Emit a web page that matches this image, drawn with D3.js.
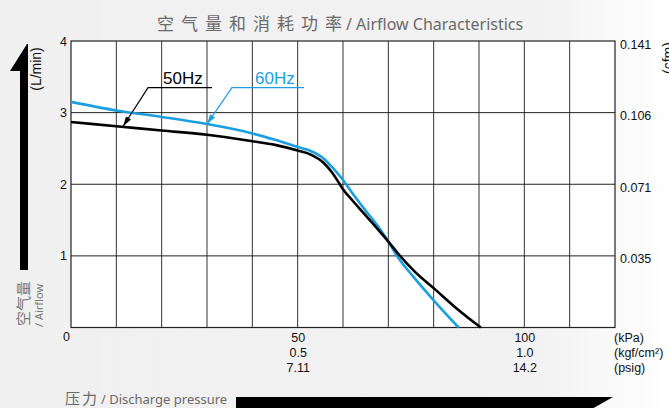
<!DOCTYPE html>
<meta charset="utf-8">
<script src="https://d3js.org/d3.v7.min.js"></script>
<style>
  body { margin: 0; }
  svg { display: block; }
</style>
<div id="chart"></div>
<script>

// pressure (kPa) and airflow (L/min)
var kpa50 = [0, 10, 20, 30, 40, 45, 50, 53, 55.7, 57.5, 59, 60, 62, 64.5, 67.7, 70, 72.3, 76, 80, 85, 90.4];
var flow50 = [2.87, 2.81, 2.75, 2.69, 2.60, 2.55, 2.47, 2.41, 2.30, 2.17, 2.03, 1.93, 1.78, 1.60, 1.37, 1.20, 1.02, 0.77, 0.55, 0.27, 0];

var kpa60 = [0, 10, 20, 30, 40, 45, 50, 53, 55.7, 58, 60, 62, 64.5, 68, 70, 72, 75.5, 80, 85.5];
var flow60 = [3.15, 3.03, 2.94, 2.84, 2.71, 2.62, 2.52, 2.46, 2.36, 2.21, 2.06, 1.88, 1.67, 1.39, 1.20, 0.99, 0.71, 0.38, 0];

// tick labels
var leftTicks = [1, 2, 3, 4];
var cfmLabels = ["0.035", "0.071", "0.106", "0.141"];
var kpaTicks = [50, 100];
var kgfLabels = ["0.5", "1.0"];
var psigLabels = ["7.11", "14.2"];
var unitLabels = ["(kPa)", "(kgf/cm\u00b2)", "(psig)"];

var W = 669, H = 408;
var margin = {top: 41, right: 54, bottom: 80.5, left: 71},
    width = W - margin.left - margin.right,
    height = H - margin.top - margin.bottom;

var blue = "#1a9fe0";
var tickFont = "'Liberation Sans', Arial, sans-serif";
var labelFont = "'Noto Sans', 'Noto Sans CJK SC', sans-serif";

var root = d3.select("#chart")
  .append("svg")
    .attr("width", W)
    .attr("height", H);

// background with a light fade to white on the right
var grad = root.append("defs").append("linearGradient")
    .attr("id", "bg").attr("x1", "0").attr("x2", "1").attr("y1", "0").attr("y2", "0");
grad.append("stop").attr("offset", "0").attr("stop-color", "#f0f0f0");
grad.append("stop").attr("offset", "0.8").attr("stop-color", "#f2f2f2");
grad.append("stop").attr("offset", "1").attr("stop-color", "#ffffff");
root.append("rect").attr("width", W).attr("height", H).attr("fill", "url(#bg)");

var defs = root.select("defs");
function marker(id, color) {
  defs.append("marker")
      .attr("id", id)
      .attr("viewBox", "0 0 10 6")
      .attr("refX", 10).attr("refY", 3)
      .attr("markerWidth", 10).attr("markerHeight", 6)
      .attr("markerUnits", "userSpaceOnUse")
      .attr("orient", "auto")
    .append("path")
      .attr("d", "M0,0L10,3L0,6Z")
      .attr("fill", color);
}
marker("headBlack", "#000");
marker("headBlue", blue);

var svg = root.append("g")
    .attr("transform", "translate(" + margin.left + "," + margin.top + ")");

var x = d3.scaleLinear().domain([0, 120]).range([0, width]);
var y = d3.scaleLinear().domain([0, 4]).range([height, 0]);

// plot area and grid
svg.append("rect")
    .attr("width", width).attr("height", height)
    .attr("fill", "#fff");

svg.append("g")
  .selectAll("line")
  .data(d3.range(10, 120, 10))
  .join("line")
    .attr("x1", d => x(d)).attr("x2", d => x(d))
    .attr("y1", 0).attr("y2", height)
    .attr("stroke", "#333").attr("stroke-width", 1);

svg.append("g")
  .selectAll("line")
  .data([1, 2, 3])
  .join("line")
    .attr("x1", 0).attr("x2", width)
    .attr("y1", d => y(d)).attr("y2", d => y(d))
    .attr("stroke", "#222").attr("stroke-width", 1);

svg.append("rect")
    .attr("width", width).attr("height", height)
    .attr("fill", "none").attr("stroke", "#222").attr("stroke-width", 1.2);

// curves
var line = d3.line()
    .x(d => x(d[0]))
    .y(d => y(d[1]))
    .curve(d3.curveMonotoneX);

svg.append("path")
    .datum(d3.zip(kpa60, flow60))
    .attr("d", line)
    .attr("fill", "none")
    .attr("stroke", blue)
    .attr("stroke-width", 2.6);

svg.append("path")
    .datum(d3.zip(kpa50, flow50))
    .attr("d", line)
    .attr("fill", "none")
    .attr("stroke", "#000")
    .attr("stroke-width", 2.6);

// left axis
var yAxis = svg.append("g")
    .call(d3.axisLeft(y).tickValues(leftTicks).tickSize(0).tickPadding(4).tickFormat(d3.format("d")));
yAxis.select(".domain").remove();
yAxis.selectAll("text").attr("font-family", tickFont).attr("font-size", 12.5).attr("fill", "#111");

svg.append("text")
    .attr("x", -1).attr("y", height + 13)
    .attr("text-anchor", "end")
    .attr("font-family", tickFont).attr("font-size", 12.5).attr("fill", "#111")
    .text("0");

// right axis (cfm)
var yRight = svg.append("g")
    .attr("transform", "translate(" + width + ",3)")
    .call(d3.axisRight(y).tickValues(leftTicks).tickSize(0).tickPadding(5)
      .tickFormat((d, i) => cfmLabels[i]));
yRight.select(".domain").remove();
yRight.selectAll("text").attr("font-family", tickFont).attr("font-size", 12.5).attr("fill", "#111");

// bottom axis with three unit rows
var xAxis = svg.append("g")
    .attr("transform", "translate(0," + height + ")")
    .call(d3.axisBottom(x).tickValues(kpaTicks).tickSize(0).tickPadding(5));
xAxis.select(".domain").remove();
xAxis.selectAll("text").remove();
xAxis.selectAll(".tick").each(function(d, i) {
  var t = d3.select(this).append("text")
      .attr("text-anchor", "middle")
      .attr("font-family", tickFont).attr("font-size", 12.5).attr("fill", "#111");
  [String(kpaTicks[i]), kgfLabels[i], psigLabels[i]].forEach(function(s, k) {
    t.append("tspan").attr("x", 0).attr("y", 14 + k * 15).text(s);
  });
});

svg.append("g")
  .selectAll("text")
  .data(unitLabels)
  .join("text")
    .attr("x", width - 1)
    .attr("y", (d, k) => height + 14 + k * 15)
    .attr("font-family", tickFont).attr("font-size", 12.5).attr("fill", "#111")
    .text(d => d);

// curve annotations
function annotate(label, tip, elbow, end, textAt, color, head) {
  svg.append("path")
      .attr("d", "M" + x(end) + "," + y(elbow[1]) +
                 "L" + x(elbow[0]) + "," + y(elbow[1]) +
                 "L" + x(tip[0]) + "," + y(tip[1]))
      .attr("fill", "none")
      .attr("stroke", color)
      .attr("stroke-width", 1.2)
      .attr("marker-end", "url(#" + head + ")");
  svg.append("text")
      .attr("x", x(textAt[0])).attr("y", y(textAt[1]))
      .attr("font-family", tickFont).attr("font-size", 17)
      .attr("fill", color)
      .text(label);
}
annotate("50Hz", [11.5, 2.81], [17, 3.35], 31.1, [20.3, 3.40], "#000", "headBlack");
annotate("60Hz", [30, 2.84], [35.5, 3.35], 51.4, [40.6, 3.40], blue, "headBlue");

// title
var title = root.append("text")
    .attr("x", 157).attr("y", 30)
    .attr("fill", "#6a6a6a");
title.append("tspan")
    .attr("font-family", "'Noto Sans CJK SC', sans-serif")
    .attr("font-size", 17)
    .attr("letter-spacing", 7)
    .text("空气量和消耗功率");
title.append("tspan")
    .attr("font-family", labelFont)
    .attr("font-size", 16)
    .attr("dx", -3)
    .text("/ Airflow Characteristics");

// side labels
root.append("text")
    .attr("transform", "translate(29,326) rotate(-90)")
    .attr("font-family", "'Noto Sans CJK SC', sans-serif")
    .attr("font-size", 15).attr("fill", "#7a7a7a")
    .text("空气量");
root.append("text")
    .attr("transform", "translate(43,327) rotate(-90)")
    .attr("font-family", labelFont)
    .attr("font-size", 11).attr("fill", "#7a7a7a")
    .text("/ Airflow");
root.append("text")
    .attr("transform", "translate(41,69) rotate(-90)")
    .attr("text-anchor", "middle")
    .attr("font-family", tickFont)
    .attr("font-size", 14).attr("fill", "#111")
    .text("(L/min)");
root.append("text")
    .attr("transform", "translate(673,58) rotate(-90)")
    .attr("text-anchor", "middle")
    .attr("font-family", tickFont)
    .attr("font-size", 14).attr("fill", "#111")
    .text("(cfm)");

var bottomLabel = root.append("text")
    .attr("x", 65).attr("y", 404)
    .attr("fill", "#6a6a6a");
bottomLabel.append("tspan")
    .attr("font-family", "'Noto Sans CJK SC', sans-serif")
    .attr("font-size", 15).attr("letter-spacing", 2)
    .text("压力");
bottomLabel.append("tspan")
    .attr("font-family", labelFont)
    .attr("font-size", 13).attr("dx", 2)
    .text("/ Discharge pressure");

// big direction arrows
root.append("path")
    .attr("d", "M20,270L20,71L10,71L27,44L28,44L28,270Z")
    .attr("fill", "#000");
root.append("path")
    .attr("d", "M236,397L613,397L576,418L236,418Z")
    .attr("fill", "#000");

</script>
